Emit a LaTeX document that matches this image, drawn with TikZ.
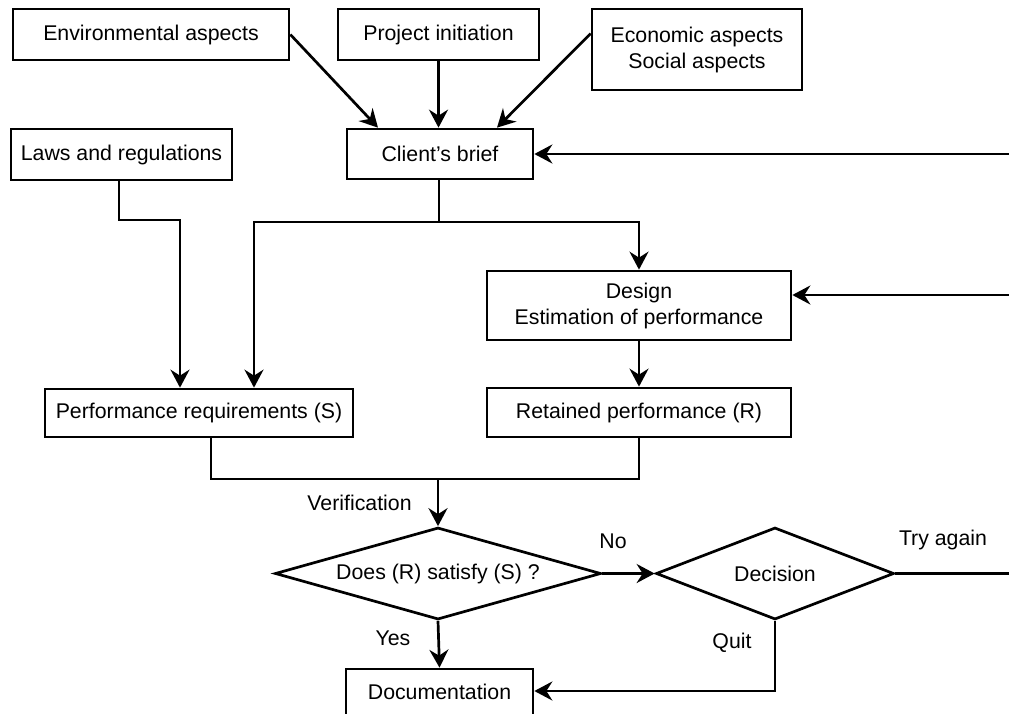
\documentclass[tikz,border=0pt]{standalone}
\usepackage{fontspec}
\setmainfont{Liberation Sans}
\usetikzlibrary{arrows.meta,shapes.geometric}
\tikzset{
  box/.style={draw, line width=2.7pt, inner sep=0pt, align=center},
  choice/.style={draw, diamond, line width=2.7pt, inner sep=0pt},
  lab/.style={inner sep=0pt},
  arr/.style={-{Stealth[length=18pt,width=19pt,inset=6pt]}},
}
\begin{document}
\begin{tikzpicture}[x=1pt, y=-1pt, line width=2.7pt, font=\fontsize{21.3}{26}\selectfont]
        \clip (0,0) rectangle (1009,713);

        \node[box, minimum width=276pt, minimum height=51pt] (env) at (151,34.5) {Environmental aspects};
        \node[box, minimum width=201pt, minimum height=51pt] (proj) at (438.5,34.5) {Project initiation};
        \node[box, minimum width=210pt, minimum height=81pt] (econ) at (697,49.5) {Economic aspects\\Social aspects};
        \node[box, minimum width=221pt, minimum height=51pt] (laws) at (121.5,154.5) {Laws and regulations};
        \node[box, minimum width=186pt, minimum height=50pt] (client) at (440,154) {Client’s brief};

        \node[box, minimum width=304pt, minimum height=69pt] (design) at (639,305.5) {Design\\Estimation of performance};
        \node[box, minimum width=308pt, minimum height=48pt] (perf) at (199,413) {Performance requirements (S)};
        \node[box, minimum width=304pt, minimum height=49pt] (ret) at (639,412.5) {Retained performance (R)};

        \node[choice, minimum width=326pt, minimum height=92pt, aspect=3.55] (check) at (438,573.5) {Does (R) satisfy (S) ?};
        \node[choice, minimum width=238pt, minimum height=92pt, aspect=2.6] (decide) at (775,573.5) {Decision};
        \node[box, minimum width=187pt, minimum height=46pt] (doc) at (439.5,692) {Documentation};

        \node[lab, anchor=east] (verif) at (413,503) {Verification};
        \node[lab] (no) at (613,541) {No};
        \node[lab] (again) at (943,540) {Try again};
        \node[lab] (yes) at (393,638) {Yes};
        \node[lab] (quit) at (732,643) {Quit};

        \coordinate (edgeA) at (1009,154);
        \coordinate (edgeB) at (1009,295);
        \coordinate (edgeC) at (1009,573.5);
        \coordinate (vjoin) at (438,479);

        \draw[arr] (env.east) -- ([xshift=-62pt]client.north);
        \draw[arr] (proj.south) -- (proj.south |- client.north);
        \draw[arr] ([yshift=16pt]econ.west) -- ([xshift=57pt]client.north);
        \draw[arr] (edgeA) -- (edgeA -| client.east);
        \draw[arr] (edgeB) -- (edgeB -| design.east);

        \draw[arr] ([xshift=-1pt]client.south) |- (254,222) -- ([xshift=55pt]perf.north);
        \draw[arr] ([xshift=-1pt]client.south) |- (639,222) -- (design.north);
        \draw[arr] ([xshift=-2.5pt]laws.south) |- (180,220) -- ([xshift=-19pt]perf.north);
        \draw[arr] (design.south) -- (ret.north);

        \draw ([xshift=12pt]perf.south) |- (vjoin) -| (ret.south);
        \draw[arr] (vjoin) -- (check.north);
        \draw[arr] (check.east) -- (decide.west);
        \draw[arr] (check.south) -- (doc.north);
        \draw (decide.east) -- (edgeC);
        \draw[arr] (decide.south) |- ([yshift=1pt]doc.east);
\end{tikzpicture}
\end{document}
